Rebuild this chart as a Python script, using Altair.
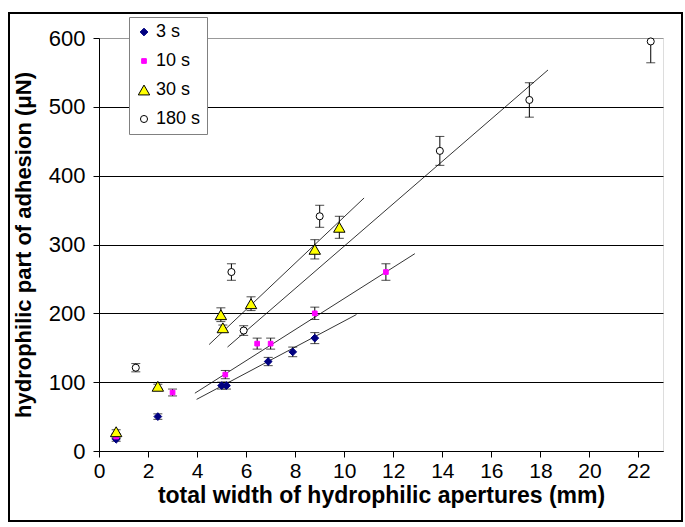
import altair as alt
import pandas as pd

series_names = ["3 s", "10 s", "30 s", "180 s"]

x_3s = [0.7, 2.4, 5.0, 5.2, 6.9, 7.9, 8.8]
y_3s = [17, 50, 95, 95, 130, 144, 164]
e_3s = [3, 4, 5, 5, 6, 7, 8]

x_10s = [0.7, 3.0, 5.15, 6.45, 7.0, 8.8, 11.7]
y_10s = [21, 85, 111, 156, 156, 200, 260]
e_10s = [3, 5, 6, 8, 8, 9, 12]

x_30s = [0.7, 2.4, 4.97, 5.05, 6.2, 8.8, 9.8]
y_30s = [28, 94, 198, 179, 214, 293, 325]
e_30s = [3, 3, 10, 4, 10, 14, 16]

x_180s = [1.5, 5.4, 5.9, 9.0, 13.9, 17.55, 22.5]
y_180s = [121, 260, 175, 341, 436, 510, 595]
e_180s = [6, 12, 7, 16, 21, 25, 31]

# linear trendlines (slope, intercept, x-range) per series
trend_slope = [18.9, 22.6, 33.7, 30.8]
trend_intercept = [-0.2, -4.4, 3.3, -10.4]
trend_x_start = [3.98, 3.91, 4.49, 5.24]
trend_x_end = [10.5, 12.88, 10.81, 18.31]

x_ticks = [0, 2, 4, 6, 8, 10, 12, 14, 16, 18, 20, 22]
y_ticks = [0, 100, 200, 300, 400, 500, 600]

shape_range = ["diamond", "square", "triangle-up", "circle"]
fill_range = ["#000080", "#FF00FF", "#FFFF00", "#FFFFFF"]
stroke_range = ["#000080", "#FF00FF", "#000000", "#000000"]
size_range = [60, 22, 130, 50]

rows = []
for name, xs, ys, es in zip(series_names,
                            [x_3s, x_10s, x_30s, x_180s],
                            [y_3s, y_10s, y_30s, y_180s],
                            [e_3s, e_10s, e_30s, e_180s]):
    for xv, yv, ev in zip(xs, ys, es):
        rows.append({"series": name, "x": xv, "y": yv, "e": ev,
                     "lo": yv - ev, "hi": yv + ev})
pts = pd.DataFrame(rows)

trows = []
for name, m, b, xa, xb in zip(series_names, trend_slope, trend_intercept, trend_x_start, trend_x_end):
    for xv in (xa, xb):
        trows.append({"series": name, "x": xv, "y": m * xv + b})
trend = pd.DataFrame(trows)

FONT = "Liberation Sans"
x_scale = alt.Scale(domain=[0, 23], nice=False)
y_scale = alt.Scale(domain=[0, 600], nice=False)
x_axis = alt.Axis(values=x_ticks, title="total width of hydrophilic apertures (mm)",
                  grid=False, labelFlush=False, labelPadding=3, titlePadding=3,
                  labelFont=FONT, titleFont=FONT, labelFontSize=21, titleFontSize=23,
                  titleFontWeight="bold", labelColor="black", titleColor="black",
                  domainColor="black", tickColor="black", tickSize=6)
y_axis = alt.Axis(values=y_ticks, title="hydrophilic part of adhesion (μN)",
                  grid=True, labelPadding=8, titlePadding=13,
                  labelFont=FONT, titleFont=FONT, labelFontSize=22, titleFontSize=22,
                  titleFontWeight="bold", labelColor="black", titleColor="black",
                  domainColor="black", tickColor="black", tickSize=6,
                  gridOpacity=1, gridWidth=1,
                  gridColor={"condition": {"test": "datum.value === 600", "value": "#999999"},
                             "value": "#000000"})


def X(field):
    return alt.X(field, type="quantitative", scale=x_scale, axis=x_axis)


def Y(field):
    return alt.Y(field, type="quantitative", scale=y_scale, axis=y_axis)


leg = alt.Legend(title=None, orient="none", legendX=30, legendY=-21, padding=6,
                 strokeColor="#808080", fillColor="white", labelFontSize=18,
                 labelFont=FONT, labelColor="black", rowPadding=11,
                 labelOffset=3, symbolStrokeWidth=1)

dom = series_names
base = alt.Chart(pts)

err = base.mark_rule(color="black", strokeWidth=1, clip=True).encode(
    x=X("x"), y=Y("lo"), y2=alt.Y2("hi"))

cap_lo = base.mark_tick(orient="horizontal", size=9, thickness=1, color="black", clip=True).encode(
    x=X("x"), y=Y("lo"))
cap_hi = base.mark_tick(orient="horizontal", size=9, thickness=1, color="black", clip=True).encode(
    x=X("x"), y=Y("hi"))

points = base.mark_point(opacity=1, fillOpacity=1, strokeWidth=1).encode(
    x=X("x"), y=Y("y"),
    shape=alt.Shape("series:N", scale=alt.Scale(domain=dom, range=shape_range), legend=leg),
    fill=alt.Fill("series:N", scale=alt.Scale(domain=dom, range=fill_range), legend=leg),
    stroke=alt.Stroke("series:N", scale=alt.Scale(domain=dom, range=stroke_range), legend=leg),
    size=alt.Size("series:N", scale=alt.Scale(type="ordinal", domain=dom, range=size_range), legend=leg),
)

lines = alt.Chart(trend).mark_line(color="black", strokeWidth=0.8).encode(
    x=X("x"), y=Y("y"), detail="series:N")

frame = alt.Chart(pd.DataFrame({"k": [0]})).mark_rect(
    fill=None, stroke="black", strokeWidth=2, clip=False
).encode(x=alt.value(-90), x2=alt.value(583), y=alt.value(-25), y2=alt.value(483))

chart = alt.layer(err, cap_lo, cap_hi, lines, points, frame).properties(
    width=564, height=413,
    autosize=alt.AutoSizeParams(type="none"),
    padding={"left": 99, "top": 38, "right": 22, "bottom": 76},
).configure_view(stroke="#999999", strokeWidth=1.5).configure(background="white")

chart.save("out.html", embed_options={"renderer": "svg", "actions": False})
